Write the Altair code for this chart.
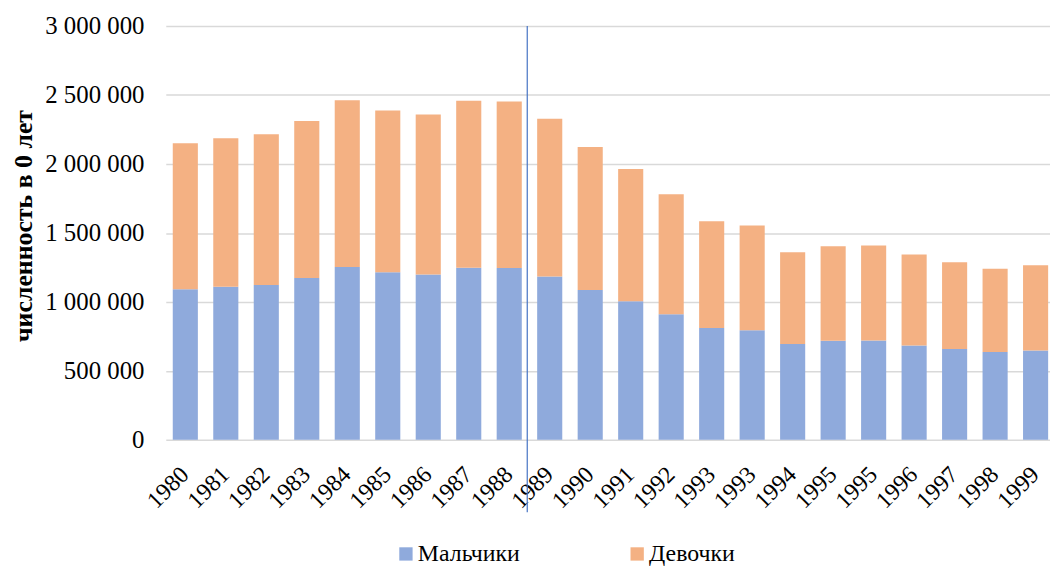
import json
import altair as alt
import pandas as pd

years = ["1980", "1981", "1982", "1983", "1984", "1985", "1986", "1987", "1988",
         "1989", "1990", "1991", "1992", "1993", "1993", "1994", "1995", "1995",
         "1996", "1997", "1998", "1999"]
boys = [1092000, 1109000, 1123000, 1174000, 1253000, 1215000, 1198000, 1248000, 1246000,
        1184000, 1087000, 1004000, 910000, 811000, 795000, 694000, 718000, 720000,
        684000, 658000, 636000, 648000]
girls = [1058000, 1078000, 1092000, 1137000, 1209000, 1173000, 1161000, 1210000, 1207000,
         1144000, 1035000, 959000, 871000, 773000, 758000, 665000, 686000, 689000,
         660000, 629000, 605000, 617000]
series = ["Мальчики", "Девочки"]
colors = ["#8FAADC", "#F4B183"]
y_ticks = [0, 500000, 1000000, 1500000, 2000000, 2500000, 3000000]
divider_index = [9]  # boundary before 1989

rows = []
for i in range(len(years)):
    rows.append({"idx": i, "series": series[0], "ord": 0, "value": boys[i]})
    rows.append({"idx": i, "series": series[1], "ord": 1, "value": girls[i]})
df = pd.DataFrame(rows)

FONT = "Liberation Serif"
label_expr = json.dumps(years) + "[datum.value]"

xscale = alt.Scale(paddingInner=0.38, paddingOuter=0.109, align=0.79)

bars = alt.Chart(df).mark_bar().encode(
    x=alt.X("idx:O", scale=xscale, title=None,
            axis=alt.Axis(labelExpr=label_expr, labelAngle=-45, labelAlign="right",
                          labelBaseline="middle", labelPadding=31, labelFontSize=24,
                          labelFont=FONT, labelColor="#000000", ticks=False,
                          domain=False, grid=False, labelOverlap=False, labelBound=False)),
    y=alt.Y("value:Q", stack="zero",
            scale=alt.Scale(domain=[0, 3000000], nice=False),
            axis=alt.Axis(values=y_ticks,
                          labelExpr="replace(replace(format(datum.value, ','), ',', ' '), ',', ' ')",
                          labelFontSize=25, labelFont=FONT, labelColor="#000000",
                          labelPadding=22, ticks=False, domain=False,
                          gridColor="#D9D9D9", gridWidth=1.5,
                          title="численность в 0 лет", titleFont=FONT, titleFontSize=26,
                          titleFontWeight="bold", titleColor="#000000", titleAngle=270,
                          titleX=-135, titleY=201, titleBaseline="alphabetic",
                          titleAlign="center")),
    color=alt.Color("series:N", scale=alt.Scale(domain=series, range=colors),
                    legend=alt.Legend(title=None, orient="none", legendX=230, legendY=520,
                                      direction="horizontal", symbolType="square",
                                      symbolSize=180, symbolStrokeWidth=0,
                                      labelFont=FONT, labelFontSize=24,
                                      labelColor="#000000", labelOffset=0,
                                      columnPadding=106, padding=0)),
    order=alt.Order("ord:Q"),
)

rule = alt.Chart(pd.DataFrame({"idx": divider_index})).mark_rule(
    color="#4472C4", strokeWidth=1.2, xOffset=-10
).encode(
    x=alt.X("idx:O", bandPosition=0),
    y=alt.value(0),
    y2=alt.value(490),
)

chart = alt.layer(bars, rule).properties(
    width=891, height=417,
    autosize=alt.AutoSizeParams(type="none"),
    padding={"left": 159, "top": 16, "right": 0, "bottom": 126},
).configure_view(stroke=None)

chart.save("out.html", embed_options={"renderer": "svg", "actions": False})
